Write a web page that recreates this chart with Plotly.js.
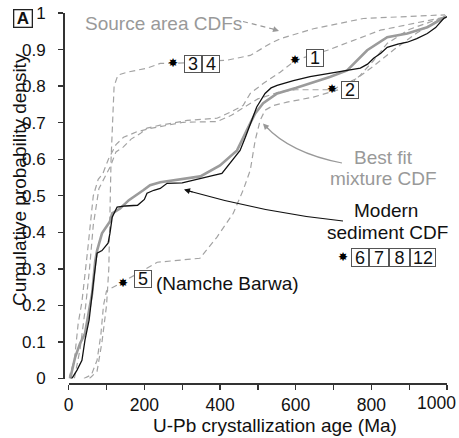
<!DOCTYPE html>
<html><head><meta charset="utf-8">
<script src="https://cdn.plot.ly/plotly-3.0.1.min.js"></script>
<style>html,body{margin:0;padding:0;background:#fff;}#chart{width:459px;height:438px;}</style>
</head><body><div id="chart"></div>
<script>
// ---- data ----
const modernAge = [5, 9, 22, 35, 43, 54, 67, 75, 88, 104, 109, 115, 128, 150, 182, 200, 207, 225, 242, 260, 300, 348, 380, 405, 426, 440, 453, 467, 480, 497, 519, 535, 551, 575, 594, 638, 690, 736, 771, 790, 806, 825, 842, 870, 895, 920, 948, 970, 991, 1000];
const modernCdf = [0, 0.001, 0.023, 0.05, 0.105, 0.16, 0.277, 0.343, 0.35, 0.37, 0.397, 0.441, 0.469, 0.472, 0.474, 0.49, 0.507, 0.515, 0.52, 0.534, 0.535, 0.548, 0.555, 0.561, 0.589, 0.605, 0.624, 0.66, 0.698, 0.743, 0.78, 0.795, 0.802, 0.81, 0.815, 0.826, 0.835, 0.841, 0.849, 0.86, 0.876, 0.89, 0.906, 0.915, 0.92, 0.93, 0.944, 0.96, 0.985, 0.99];

const fitAge = [4, 17, 30, 43, 62, 70, 75, 88, 109, 115, 136, 159, 197, 215, 242, 300, 348, 400, 445, 471, 493, 514, 551, 600, 638, 690, 736, 789, 842, 895, 948, 995];
const fitCdf = [0, 0.058, 0.096, 0.123, 0.233, 0.32, 0.35, 0.397, 0.43, 0.452, 0.465, 0.488, 0.515, 0.529, 0.537, 0.545, 0.553, 0.583, 0.624, 0.68, 0.725, 0.753, 0.78, 0.795, 0.808, 0.825, 0.843, 0.898, 0.934, 0.944, 0.961, 0.989];

// source area CDFs (dashed)
const src34Age = [55, 75, 88, 100, 106, 109, 112, 116, 120, 130, 154, 207, 242, 277, 350, 419, 480, 532, 560, 647, 779, 900, 995];
const src34Cdf = [0, 0.02, 0.1, 0.2, 0.3, 0.45, 0.6, 0.7, 0.8, 0.83, 0.838, 0.849, 0.862, 0.862, 0.866, 0.871, 0.884, 0.916, 0.93, 0.957, 0.985, 0.99, 0.995];

const src1Age = [15, 30, 45, 55, 65, 80, 95, 110, 125, 144, 165, 189, 207, 242, 313, 392, 426, 461, 480, 514, 559, 600, 684, 824, 1000];
const src1Cdf = [0, 0.08, 0.2, 0.3, 0.42, 0.52, 0.55, 0.58, 0.62, 0.633, 0.655, 0.67, 0.685, 0.693, 0.706, 0.712, 0.728, 0.747, 0.78, 0.807, 0.838, 0.871, 0.898, 0.953, 0.99];

const src2Age = [0, 15, 25, 35, 50, 65, 78, 90, 105, 115, 125, 145, 180, 215, 303, 392, 430, 460, 500, 560, 600, 696, 760, 800, 860, 920, 1000];
const src2Cdf = [0, 0.05, 0.15, 0.21, 0.35, 0.5, 0.545, 0.56, 0.6, 0.62, 0.64, 0.66, 0.675, 0.684, 0.701, 0.703, 0.72, 0.74, 0.765, 0.785, 0.79, 0.79, 0.82, 0.85, 0.9, 0.945, 0.995];

const src5Age = [40, 60, 75, 85, 92, 100, 141, 234, 347, 392, 435, 461, 480, 493, 506, 519, 541, 577, 647, 736, 771, 806, 842, 900, 995];
const src5Cdf = [0, 0.01, 0.05, 0.12, 0.2, 0.24, 0.263, 0.318, 0.329, 0.387, 0.452, 0.515, 0.57, 0.652, 0.706, 0.734, 0.747, 0.756, 0.77, 0.797, 0.83, 0.87, 0.917, 0.955, 0.99];

const xTickVals = [0, 100, 200, 300, 400, 500, 600, 700, 800, 900, 1000];
const xTickText = ['0', '', '200', '', '400', '', '600', '', '800', '', '1000'];
const yTickVals = [0, 0.1, 0.2, 0.3, 0.4, 0.5, 0.6, 0.7, 0.8, 0.9, 1];
const yTickText = ['0', '0.1', '0.2', '0.3', '0.4', '0.5', '0.6', '0.7', '0.8', '0.9', '1'];

// ---- layout geometry (pixels) ----
const W = 459, H = 438;
const ML = 55, MR = 12, MT = 13, MB = 48;
const PW = W - ML - MR, PH = H - MT - MB;
const px = p => (p - ML) / PW;          // pixel x -> paper
const py = p => (H - MB - p) / PH;      // pixel y -> paper

const FONT = '"Liberation Sans", Arial, Helvetica, sans-serif';
const dashGray = '#a3a3a3';

function dashed(x, y) {
  return {x: x, y: y, type: 'scatter', mode: 'lines', hoverinfo: 'skip',
          line: {color: dashGray, width: 1.2, dash: '6px,4px'}};
}
const traces = [
  dashed(src34Age, src34Cdf),
  dashed(src1Age, src1Cdf),
  dashed(src2Age, src2Cdf),
  dashed(src5Age, src5Cdf),
  {x: fitAge, y: fitCdf, type: 'scatter', mode: 'lines', line: {color: '#9b9b9b', width: 2.6}},
  {x: modernAge, y: modernCdf, type: 'scatter', mode: 'lines', line: {color: '#111', width: 1.3}}
];

const ann = [];
function txt(t, x, y, opt) {
  ann.push(Object.assign({text: t, x: px(x), y: py(y), xref: 'paper', yref: 'paper',
    showarrow: false, xanchor: 'center', yanchor: 'middle',
    font: {family: FONT, size: 19, color: '#111'}}, opt || {}));
}
function box(t, cx, cy, w, h) {
  txt(t, cx, cy, {width: w - 2, height: h - 2, borderpad: 0, borderwidth: 1,
      bordercolor: '#555', bgcolor: '#fff', font: {family: FONT, size: 18, color: '#111'}});
}
function star(x, y) {
  txt('✸', x, y, {font: {family: 'DejaVu Sans', size: 12, color: '#000'}});
}
function head(x, y, ax, ay, color) {
  ann.push({text: '', x: px(x), y: py(y), xref: 'paper', yref: 'paper', showarrow: true,
    ax: ax, ay: ay, arrowhead: 2, arrowsize: 1, arrowwidth: 1.2, arrowcolor: color, standoff: 0});
}
const GRAYTXT = {family: FONT, size: 19, color: '#999'};

// panel letter
txt('<b>A</b>', 23, 18, {width: 17, height: 16, borderpad: 0, borderwidth: 1.3, bordercolor: '#222', font: {family: FONT, size: 17, color: '#111'}});
// labels
txt('Source area CDFs', 163.5, 24, {font: GRAYTXT});
txt('Best fit', 383, 157, {font: GRAYTXT});
txt('mixture CDF', 383, 178, {font: GRAYTXT});
txt('Modern', 386, 210);
txt('sediment CDF', 387, 232);
txt('(Namche Barwa)', 154, 283, {xanchor: 'left'});

// stars and number boxes
star(173, 63); box('3', 192.5, 63.5, 18, 18); box('4', 210.5, 63.5, 18, 18);
star(295, 60); box('1', 315, 58, 18, 18);
star(332, 89); box('2', 349.5, 90, 18, 18);
star(123, 283); box('5', 142.5, 279, 18, 18);
star(343, 257); box('6', 359.5, 257, 18, 19); box('7', 378.5, 257, 20, 19); box('8', 399, 257, 21, 19); box('12', 422.5, 257, 26, 19);

// last x tick label is drawn right-aligned at the plot edge, as in the reference
const lastX = xTickText.length - 1;
txt(xTickText[lastX], 436.5, 402.5, {font: {family: FONT, size: 17.5, color: '#111'}});
const xTickTextShown = xTickText.map((t, i) => i === lastX ? '' : t);

// axis titles
txt('U-Pb crystallization age (Ma)', 275, 425.5);
txt('Cumulative probability density', 19, 180, {textangle: -90});

// arrowheads
head(279, 31, -8, -2.5, '#999');
head(263, 123.5, 6, 6.5, '#999');
head(184, 189.5, 10, 3, '#111');

const shapes = [
  {type: 'line', xref: 'paper', yref: 'paper', x0: px(243), y0: py(21.5), x1: px(273), y1: py(29),
   line: {color: '#999', width: 1.2, dash: '5px,4px'}},
  {type: 'path', xref: 'paper', yref: 'paper',
   path: `M ${px(342)} ${py(163)} Q ${px(290)} ${py(153)} ${px(265)} ${py(125.5)}`,
   line: {color: '#999', width: 1.2}},
  {type: 'path', xref: 'paper', yref: 'paper',
   path: `M ${px(343)} ${py(221)} Q ${px(265)} ${py(213)} ${px(187)} ${py(190.5)}`,
   line: {color: '#111', width: 1.2}}
];

const layout = {
  width: W, height: H, margin: {l: ML, r: MR, t: MT, b: MB, pad: 0},
  paper_bgcolor: '#fff', plot_bgcolor: '#fff', showlegend: false,
  font: {family: FONT, size: 18, color: '#111'},
  xaxis: {range: [0, 1000], domain: [px(68.7), 1], anchor: 'free', position: py(383),
          showgrid: false, zeroline: false, showline: true, linecolor: '#333', linewidth: 1.5,
          ticks: 'outside', ticklen: 5, tickwidth: 1.3, tickcolor: '#333',
          tickvals: xTickVals, ticktext: xTickTextShown, ticklabelstandoff: 0,
          tickfont: {family: FONT, size: 17.5, color: '#111'}},
  yaxis: {range: [0, 1], domain: [py(378.5), 1], anchor: 'free', position: px(63),
          showgrid: false, zeroline: false, showline: true, linecolor: '#333', linewidth: 1.5,
          ticks: 'outside', ticklen: 5, tickwidth: 1.3, tickcolor: '#333',
          tickvals: yTickVals, ticktext: yTickText, ticklabelstandoff: 9,
          tickfont: {family: FONT, size: 17, color: '#111'}},
  annotations: ann, shapes: shapes
};
Plotly.newPlot('chart', traces, layout, {staticPlot: true, displayModeBar: false});
</script></body></html>
